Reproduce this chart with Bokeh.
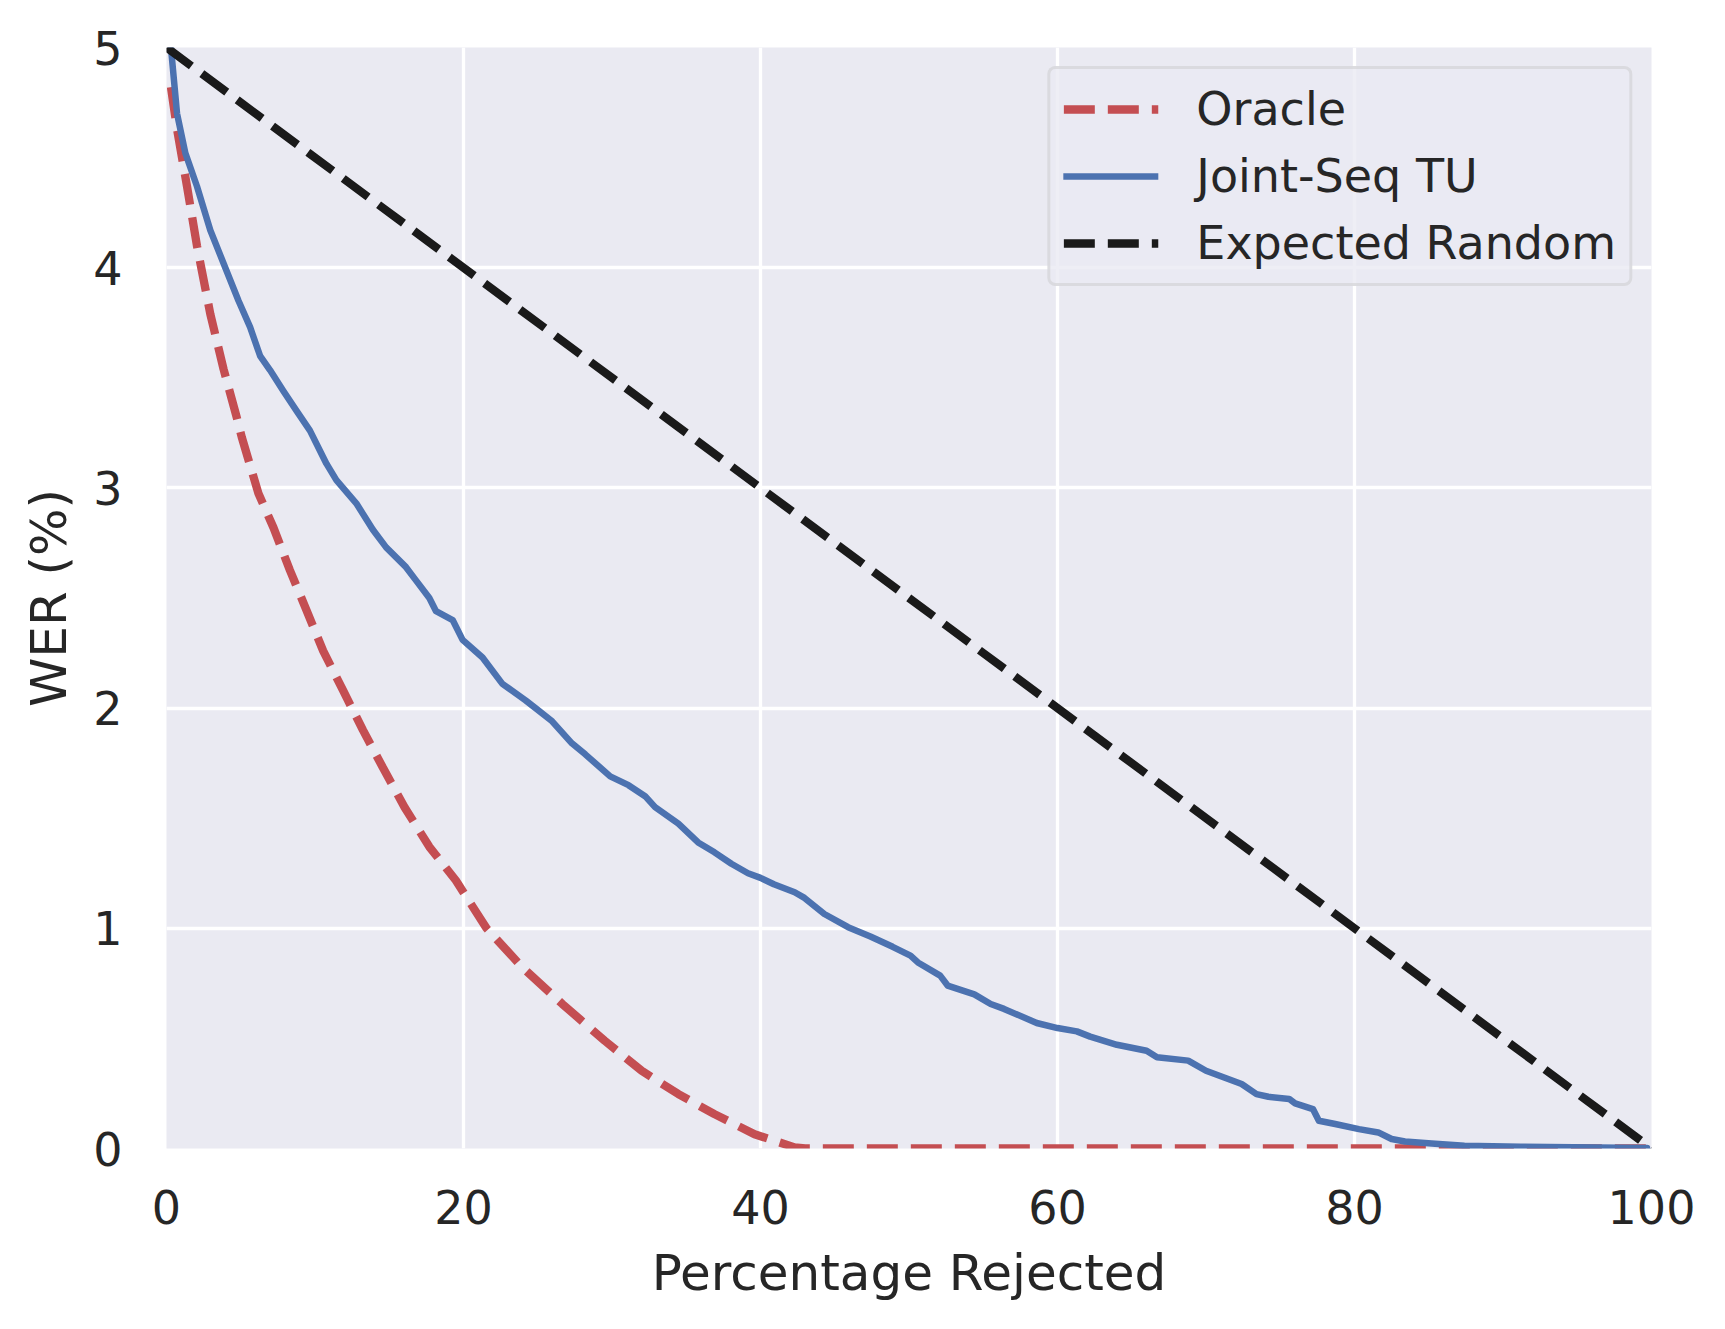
from bokeh.plotting import figure
from bokeh.models import Range1d, FixedTicker, Legend, LegendItem
from bokeh.embed import file_html
from bokeh.resources import INLINE

# ---- data ----
oracle_x = [0.3, 0.71, 1.38, 2.05, 2.95, 3.84, 4.73, 5.07, 6.19, 7.20, 8.31, 9.43, 10.55,
            11.89, 13.23, 14.57, 16.03, 17.70, 19.49, 21.55, 24.0, 26.66, 29.5, 32.0,
            34.47, 36.9, 39.6, 42.3, 43.0, 99.7]
oracle_y = [4.82, 4.63, 4.37, 4.10, 3.79, 3.54, 3.32, 3.23, 2.975, 2.82, 2.626, 2.444, 2.26,
            2.08, 1.90, 1.73, 1.55, 1.37, 1.217, 1.0, 0.82, 0.656, 0.49, 0.353,
            0.247, 0.156, 0.065, 0.005, 0.0, 0.0]

joint_x = [0.3, 0.71, 1.27, 2.05, 2.95, 3.96, 4.85, 5.63, 6.30, 6.97, 7.87, 8.76, 9.66,
           10.77, 11.44, 12.78, 13.90, 14.79, 16.13, 16.80, 17.70, 18.15, 19.27, 19.94,
           21.28, 22.62, 24.18, 24.85, 25.97, 27.30, 28.20, 29.88, 31.11, 32.23, 32.90,
           34.47, 35.80, 36.90, 38.04, 39.16, 40.00, 40.90, 42.30, 42.96, 44.30, 45.90,
           47.40, 48.90, 50.10, 50.60, 52.10, 52.60, 54.40, 55.50, 56.40, 58.60, 60.00,
           61.30, 62.20, 64.00, 66.00, 66.70, 68.80, 70.00, 72.40, 73.40, 74.20, 75.60,
           76.00, 77.20, 77.60, 78.70, 80.30, 81.60, 82.50, 83.40, 85.20, 87.40, 91.20, 99.7]
joint_y = [5.00, 4.70, 4.52, 4.37, 4.17, 4.00, 3.85, 3.73, 3.60, 3.535, 3.44, 3.35, 3.26,
           3.11, 3.035, 2.93, 2.81, 2.73, 2.64, 2.58, 2.50, 2.44, 2.40, 2.31,
           2.23, 2.11, 2.035, 2.00, 1.94, 1.84, 1.79, 1.69, 1.65, 1.60, 1.55,
           1.475, 1.39, 1.345, 1.293, 1.25, 1.229, 1.20, 1.164, 1.138, 1.065, 1.005,
           0.963, 0.916, 0.876, 0.845, 0.785, 0.74, 0.70, 0.656, 0.634, 0.570, 0.547,
           0.532, 0.508, 0.471, 0.444, 0.414, 0.399, 0.353, 0.293, 0.247, 0.235, 0.225,
           0.205, 0.179, 0.126, 0.111, 0.088, 0.073, 0.043, 0.032, 0.023, 0.012, 0.008, 0.002]

random_x = [0.0, 100.0]
random_y = [5.0, 0.0]

x_ticks = [0, 20, 40, 60, 80, 100]
y_ticks = [0, 1, 2, 3, 4, 5]

FONT = "DejaVu Sans"
TXT = "#262626"
FS_TICK = "46px"
FS_LABEL = "50px"
FS_LEG = "46px"

p = figure(width=1705, height=1310, output_backend="svg", toolbar_location=None,
           x_range=Range1d(0, 100), y_range=Range1d(0, 5),
           min_border_left=166, min_border_right=54, min_border_top=47,
           min_border_bottom=162)

p.background_fill_color = "#EAEAF2"
p.border_fill_color = "white"
p.outline_line_color = None

for g in (p.xgrid, p.ygrid):
    g.grid_line_color = "white"
    g.grid_line_width = 3.3
p.xgrid.ticker = FixedTicker(ticks=x_ticks)
p.ygrid.ticker = FixedTicker(ticks=y_ticks)

for ax in (p.xaxis, p.yaxis):
    ax.axis_line_color = None
    ax.major_tick_line_color = None
    ax.minor_tick_line_color = None
    ax.major_tick_out = 0
    ax.major_tick_in = 0
    ax.minor_tick_out = 0
    ax.minor_tick_in = 0
    ax.major_label_text_font = FONT
    ax.major_label_text_font_size = FS_TICK
    ax.major_label_text_color = TXT
    ax.axis_label_text_font = FONT
    ax.axis_label_text_font_size = FS_LABEL
    ax.axis_label_text_font_style = "normal"
    ax.axis_label_text_color = TXT

p.xaxis.ticker = FixedTicker(ticks=x_ticks)
p.yaxis.ticker = FixedTicker(ticks=y_ticks)
p.xaxis.axis_label = "Percentage Rejected"
p.yaxis.axis_label = "WER (%)"
p.xaxis.major_label_standoff = 41
p.xaxis.axis_label_standoff = 17
p.yaxis.major_label_standoff = 44
p.yaxis.axis_label_standoff = 12

r_oracle = p.line(oracle_x, oracle_y, line_color="#C44E52", line_width=8.3,
                  line_dash="31 13")
r_joint = p.line(joint_x, joint_y, line_color="#4C72B0", line_width=6.5,
                 line_join="round", line_cap="round")
r_random = p.line(random_x, random_y, line_color="#1a1a1a", line_width=8.3,
                  line_dash="31 13")

legend = Legend(items=[
    LegendItem(label="Oracle", renderers=[r_oracle]),
    LegendItem(label="Joint-Seq TU", renderers=[r_joint]),
    LegendItem(label="Expected Random", renderers=[r_random]),
], location="top_right")
legend.margin = 19
legend.padding = 13
legend.spacing = 13
legend.glyph_width = 95
legend.glyph_height = 30
legend.label_standoff = 38
legend.label_text_font = FONT
legend.label_text_font_size = FS_LEG
legend.label_text_color = TXT
legend.border_line_color = "#cccccc"
legend.border_line_width = 3
legend.border_radius = 8
legend.background_fill_color = "#EAEAF2"
legend.background_fill_alpha = 0.8
p.add_layout(legend)

open("out.html", "w").write(file_html(p, INLINE))
